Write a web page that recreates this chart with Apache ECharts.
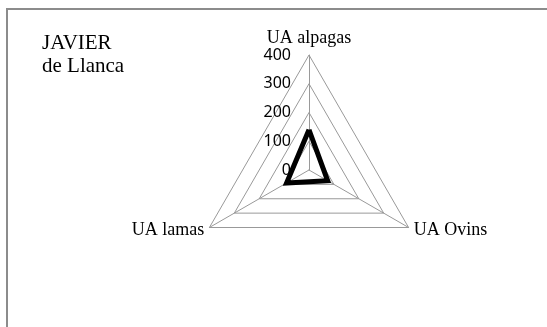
<!DOCTYPE html>
<html>
<head>
<meta charset="utf-8">
<script src="https://cdn.jsdelivr.net/npm/echarts@6/dist/echarts.min.js"></script>
<style>
    html, body { margin: 0; padding: 0; background: #fff; }
    #main { width: 547px; height: 327px; }
</style>
</head>
<body>
<div id="main"></div>
<script>
// 数据
var titre = 'JAVIER\nde Llanca';
var axes = ['UA alpagas', 'UA lamas', 'UA Ovins'];
var valeurs = [140, 90, 75];
var axeMin = 0;
var axeMax = 400;
var pas = 100;

var radarChart = function() {
    var box = document.getElementById('main');
    var myChart = echarts.init(box);

    var indicator = axes.map(function(name, i) {
        var item = { name: name, min: axeMin, max: axeMax };
        // seule la première branche porte les graduations
        if (i === 0) {
            item.axisLabel = {
                show: true,
                color: '#000',
                fontFamily: 'Noto Sans',
                fontSize: 16,
                margin: 18
            };
        }
        return item;
    });

    var option = {
        animation: false,
        title: {
            text: titre,
            left: 37,
            top: 27,
            textStyle: {
                color: '#000',
                fontFamily: 'Liberation Serif',
                fontWeight: 'normal',
                fontSize: 21,
                lineHeight: 23
            }
        },
        graphic: [{
            type: 'rect',
            shape: { x: 7, y: 9, width: 700, height: 500 },
            style: { fill: 'none', stroke: '#8c8c8c', lineWidth: 2 },
            silent: true
        }],
        radar: {
            center: [309, 170],
            radius: 115,
            shape: 'polygon',
            startAngle: 90,
            splitNumber: (axeMax - axeMin) / pas,
            indicator: indicator,
            axisName: {
                color: '#000',
                fontFamily: 'Liberation Serif',
                fontSize: 18
            },
            nameGap: 6,
            axisLine: { lineStyle: { color: '#999', width: 1 } },
            splitLine: { lineStyle: { color: '#999', width: 1 } },
            splitArea: { show: false },
            axisTick: { show: false },
            axisLabel: { show: false }
        },
        series: [{
            type: 'radar',
            symbol: 'none',
            lineStyle: { color: '#000', width: 5, join: 'miter' },
            data: [{ value: valeurs, name: 'JAVIER de Llanca' }]
        }]
    };
    myChart.setOption(option);
};
radarChart();
</script>
</body>
</html>
